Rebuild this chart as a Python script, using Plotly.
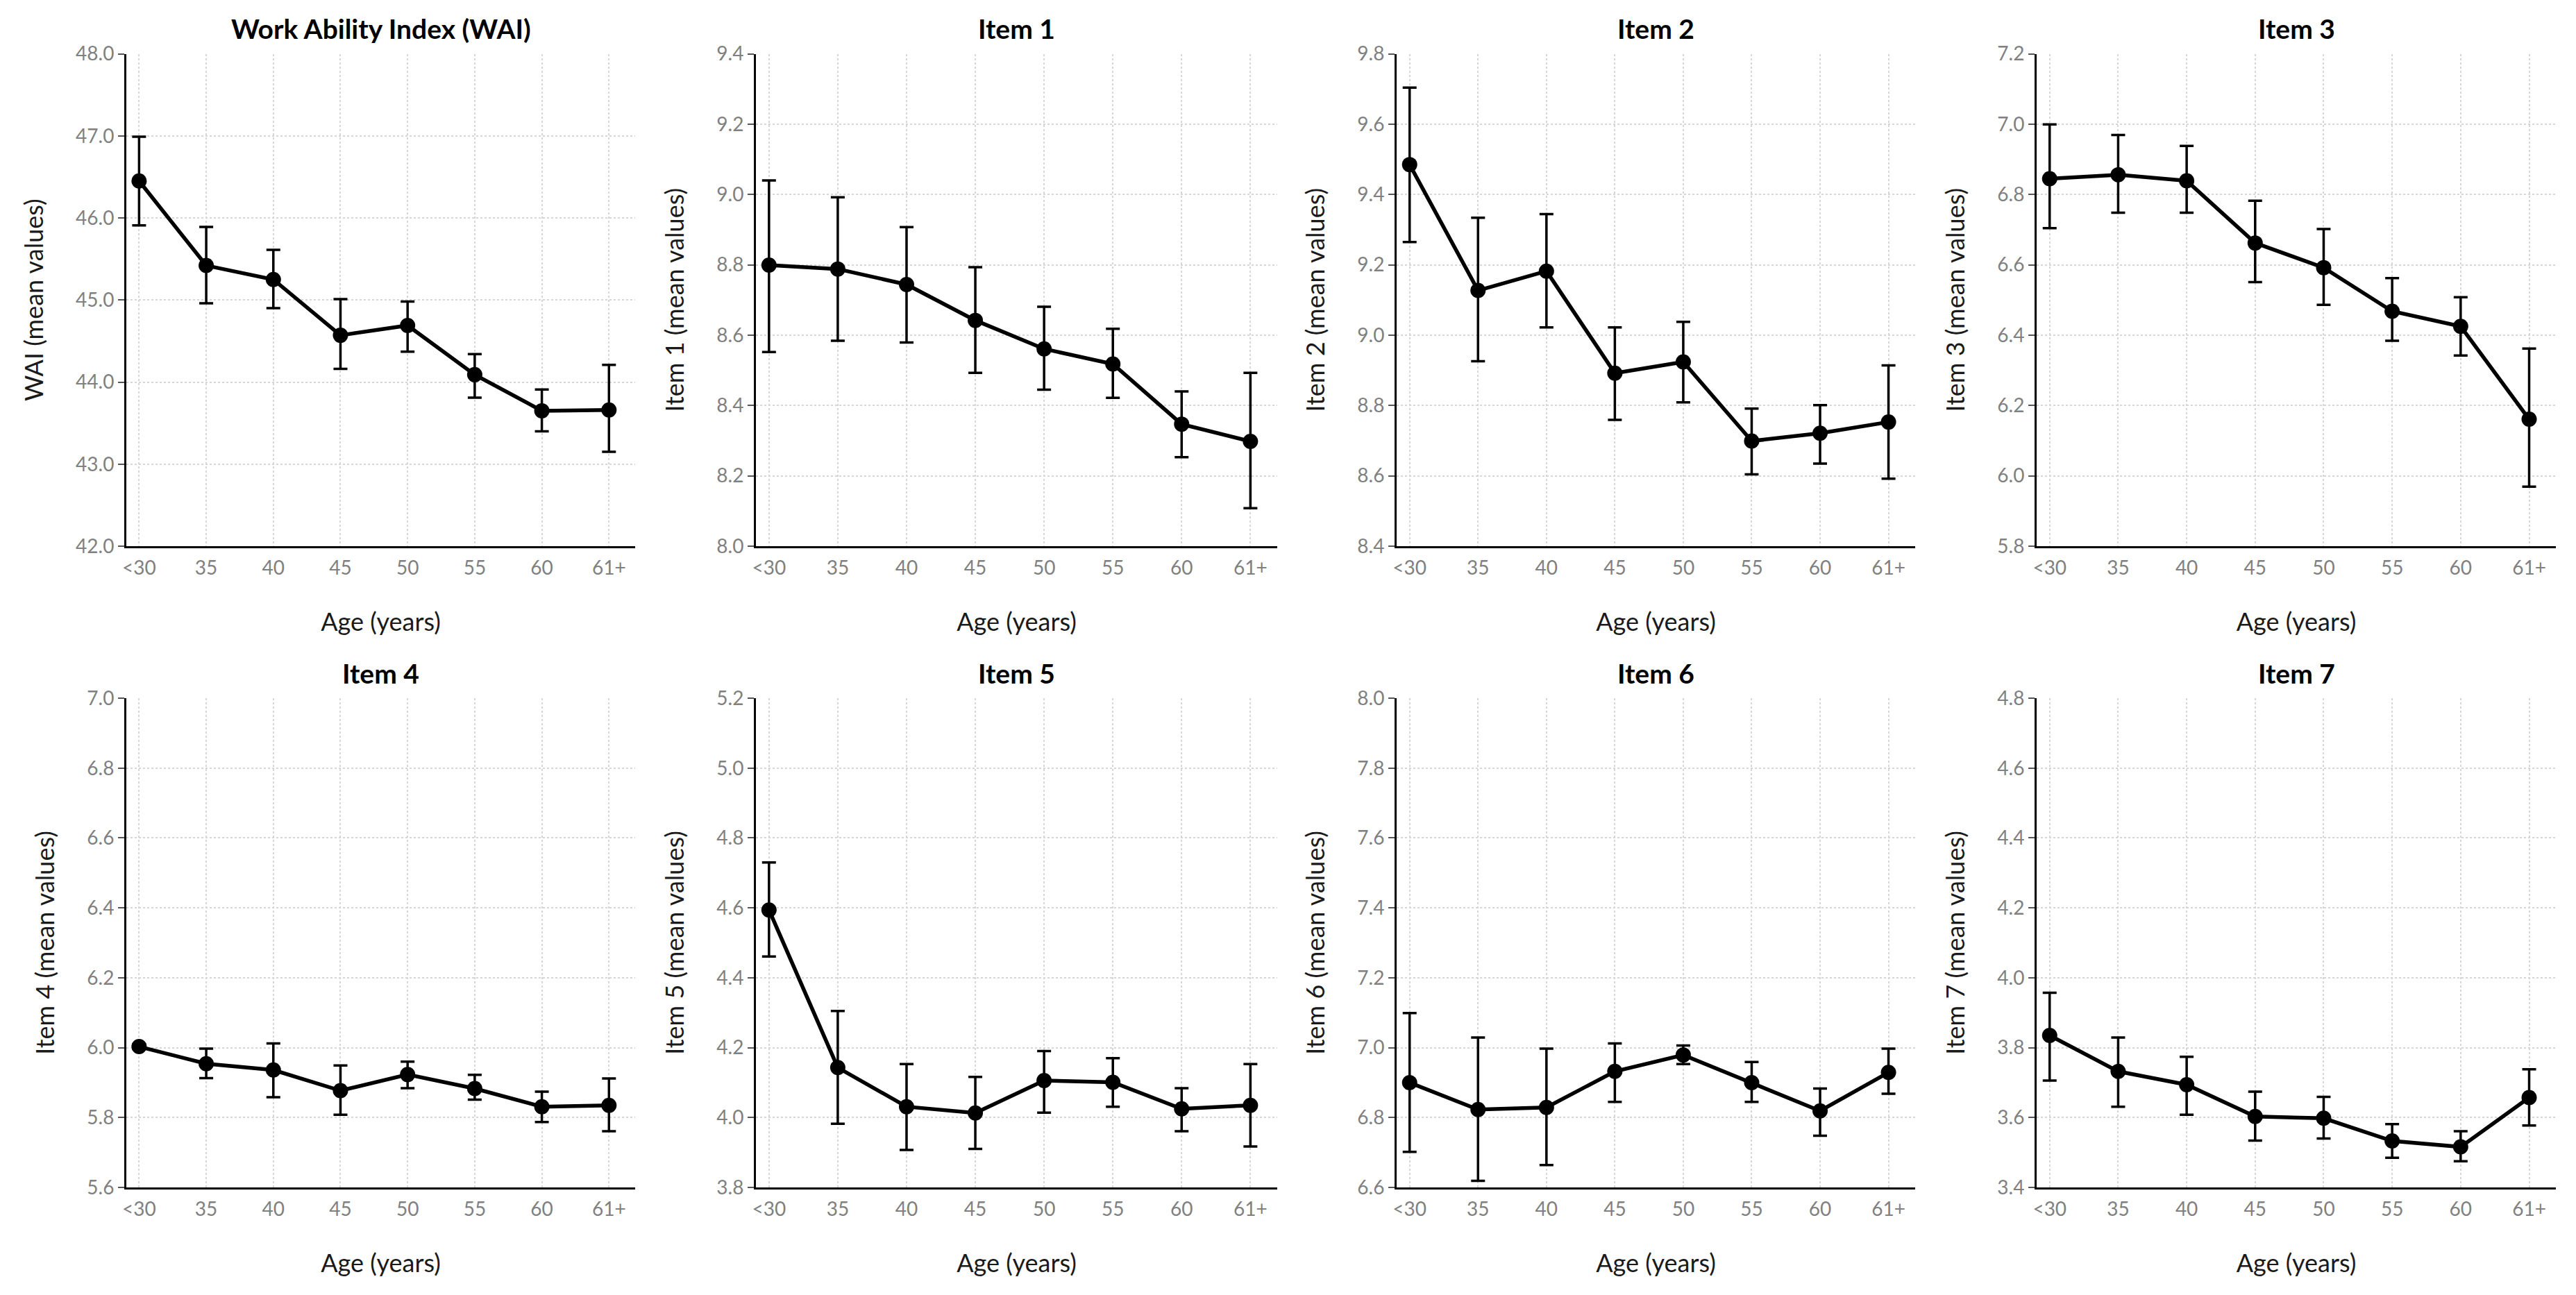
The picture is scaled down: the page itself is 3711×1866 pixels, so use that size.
import plotly.graph_objects as go

age_labels = ["<30", "35", "40", "45", "50", "55", "60", "61+"]

panel_titles = ["Work Ability Index (WAI)", "Item 1", "Item 2", "Item 3",
                "Item 4", "Item 5", "Item 6", "Item 7"]
y_titles = ["WAI (mean values)", "Item 1 (mean values)", "Item 2 (mean values)",
            "Item 3 (mean values)", "Item 4 (mean values)", "Item 5 (mean values)",
            "Item 6 (mean values)", "Item 7 (mean values)"]

wai_mean = [46.45, 45.42, 45.25, 44.57, 44.69, 44.09, 43.65, 43.66]
wai_upper = [46.99, 45.89, 45.61, 45.01, 44.98, 44.34, 43.91, 44.21]
wai_lower = [45.91, 44.96, 44.90, 44.16, 44.37, 43.81, 43.40, 43.15]

item1_mean = [8.799, 8.788, 8.744, 8.642, 8.561, 8.518, 8.347, 8.298]
item1_upper = [9.040, 8.992, 8.907, 8.793, 8.681, 8.618, 8.440, 8.493]
item1_lower = [8.552, 8.584, 8.579, 8.493, 8.445, 8.422, 8.253, 8.108]

item2_mean = [9.485, 9.127, 9.182, 8.892, 8.924, 8.699, 8.721, 8.753]
item2_upper = [9.704, 9.334, 9.344, 9.022, 9.038, 8.791, 8.801, 8.914]
item2_lower = [9.265, 8.926, 9.022, 8.759, 8.809, 8.604, 8.635, 8.592]

item3_mean = [6.845, 6.856, 6.839, 6.662, 6.592, 6.468, 6.425, 6.161]
item3_upper = [6.999, 6.969, 6.938, 6.782, 6.702, 6.562, 6.508, 6.362]
item3_lower = [6.704, 6.748, 6.748, 6.551, 6.486, 6.384, 6.342, 5.969]

item4_mean = [6.003, 5.954, 5.936, 5.877, 5.923, 5.883, 5.831, 5.835]
item4_upper = [6.010, 5.997, 6.012, 5.949, 5.960, 5.922, 5.874, 5.912]
item4_lower = [5.996, 5.913, 5.858, 5.808, 5.884, 5.851, 5.787, 5.761]

item5_mean = [4.594, 4.143, 4.031, 4.013, 4.106, 4.101, 4.025, 4.035]
item5_upper = [4.730, 4.305, 4.153, 4.116, 4.190, 4.170, 4.084, 4.153]
item5_lower = [4.461, 3.982, 3.907, 3.910, 4.014, 4.031, 3.961, 3.917]

item6_mean = [6.900, 6.823, 6.829, 6.932, 6.979, 6.900, 6.819, 6.929]
item6_upper = [7.099, 7.029, 6.997, 7.012, 7.006, 6.959, 6.883, 6.997]
item6_lower = [6.702, 6.619, 6.664, 6.845, 6.953, 6.845, 6.748, 6.868]

item7_mean = [3.835, 3.732, 3.694, 3.603, 3.598, 3.533, 3.516, 3.657]
item7_upper = [3.957, 3.829, 3.774, 3.674, 3.659, 3.581, 3.561, 3.738]
item7_lower = [3.706, 3.631, 3.608, 3.534, 3.540, 3.485, 3.475, 3.577]

y_ranges = [(42.0, 48.0), (8.0, 9.4), (8.4, 9.8), (5.8, 7.2),
            (5.6, 7.0), (3.8, 5.2), (6.6, 8.0), (3.4, 4.8)]
y_dticks = [1.0, 0.2, 0.2, 0.2, 0.2, 0.2, 0.2, 0.2]

series = [
    (wai_mean, wai_upper, wai_lower),
    (item1_mean, item1_upper, item1_lower),
    (item2_mean, item2_upper, item2_lower),
    (item3_mean, item3_upper, item3_lower),
    (item4_mean, item4_upper, item4_lower),
    (item5_mean, item5_upper, item5_lower),
    (item6_mean, item6_upper, item6_lower),
    (item7_mean, item7_upper, item7_lower),
]

# page is 3711x1866; the default body margin (8px) is compensated
PAGE_OFF = 8
W, H = 3711 - 2 * PAGE_OFF, 1866 - 2 * PAGE_OFF
col_px = [(182, 915), (1089, 1840), (2012, 2759), (2934, 3682)]
row_px = [(77.5, 787), (1006, 1711)]

FONT = "Lato"
fig = go.Figure()
layout = dict(
    width=W, height=H,
    margin=dict(l=0, r=0, t=0, b=0),
    paper_bgcolor="white", plot_bgcolor="white",
    showlegend=False,
    font=dict(family=FONT, color="#222222"),
)
annotations = []

for i, (mean, upper, lower) in enumerate(series):
    r, c = divmod(i, 4)
    x0, x1 = [v - PAGE_OFF for v in col_px[c]]
    y0, y1 = [v - PAGE_OFF for v in row_px[r]]
    xd = [x0 / W, x1 / W]
    yd = [1 - y1 / H, 1 - y0 / H]
    sfx = "" if i == 0 else str(i + 1)
    err_plus = [u - m for u, m in zip(upper, mean)]
    err_minus = [m - l for m, l in zip(mean, lower)]
    fig.add_trace(go.Scatter(
        x=age_labels, y=mean, mode="lines+markers",
        line=dict(color="black", width=5.5),
        marker=dict(color="black", size=22),
        error_y=dict(type="data", symmetric=False, array=err_plus,
                     arrayminus=err_minus, color="black", thickness=3.5, width=10),
        xaxis="x" + sfx, yaxis="y" + sfx,
    ))
    layout["xaxis" + sfx] = dict(
        domain=xd, anchor="y" + sfx, type="category",
        range=[-0.19, 7.39],
        showline=True, linecolor="black", linewidth=3,
        showgrid=True, gridcolor="#d6d6d6", gridwidth=2, griddash="dot",
        ticks="", ticklabelstandoff=4,
        tickfont=dict(family=FONT, size=28, color="#808080"),
        title=dict(text="Age (years)", font=dict(family=FONT, size=36, color="#1a1a1a"),
                   standoff=52),
        zeroline=False, automargin=False,
    )
    lo, hi = y_ranges[i]
    layout["yaxis" + sfx] = dict(
        domain=yd, anchor="x" + sfx,
        range=[lo, hi], tick0=lo, dtick=y_dticks[i], tickformat=".1f",
        showline=True, linecolor="black", linewidth=3,
        showgrid=True, gridcolor="#d6d6d6", gridwidth=2, griddash="dot",
        ticks="outside", ticklen=9, tickwidth=2, tickcolor="#555555",
        tickfont=dict(family=FONT, size=28, color="#808080"),
        title=dict(text=y_titles[i], font=dict(family=FONT, size=36, color="#1a1a1a"),
                   standoff=36),
        zeroline=False, automargin=False,
    )
    annotations.append(dict(
        text="<b>" + panel_titles[i] + "</b>", xref="paper", yref="paper",
        x=(xd[0] + xd[1]) / 2, y=yd[1] + 36 / H, xanchor="center", yanchor="middle",
        showarrow=False, font=dict(family=FONT, size=39, color="black"),
    ))

layout["annotations"] = annotations
fig.update_layout(**layout)
fig.write_html("out.html")
